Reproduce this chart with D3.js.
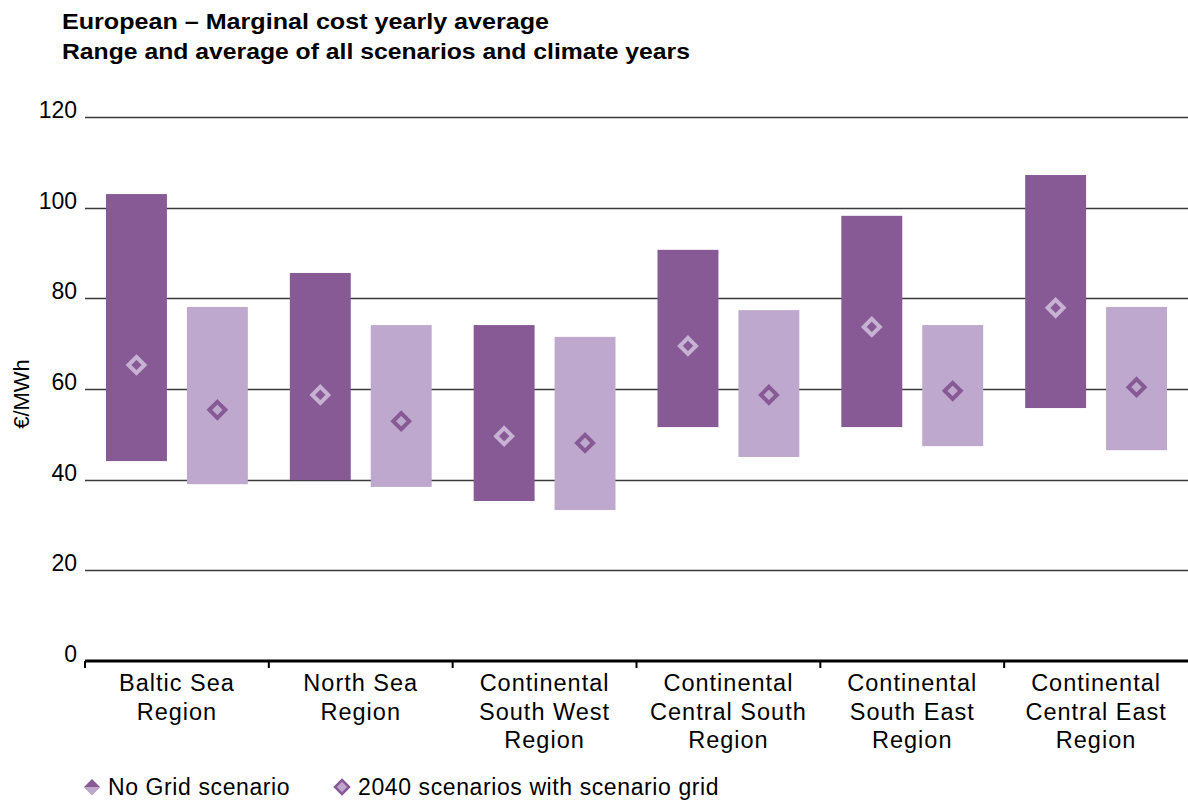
<!DOCTYPE html>
<html>
<head>
<meta charset="utf-8">
<script src="https://cdn.jsdelivr.net/npm/d3@7"></script>
<style>
  body { margin: 0; background: #fff; }
  text { font-family: "Liberation Sans", Arial, sans-serif; fill: #000; }
</style>
</head>
<body>
<div id="chart"></div>
<script>
// data
const regions = [
  ["Baltic Sea", "Region"],
  ["North Sea", "Region"],
  ["Continental", "South West", "Region"],
  ["Continental", "Central South", "Region"],
  ["Continental", "South East", "Region"],
  ["Continental", "Central East", "Region"]
];
const seriesNames = ["No Grid scenario", "2040 scenarios with scenario grid"];
// No Grid scenario: min, max, average
const noGridMin = [44.1, 39.9, 35.3, 51.6, 51.6, 55.8];
const noGridMax = [103.0, 85.6, 74.1, 90.7, 98.2, 107.2];
const noGridAvg = [65.3, 58.7, 49.6, 69.5, 73.7, 77.9];
// 2040 scenarios with scenario grid
const gridMin = [39.0, 38.4, 33.3, 45.0, 47.4, 46.5];
const gridMax = [78.1, 74.1, 71.5, 77.4, 74.1, 78.1];
const gridAvg = [55.4, 52.9, 48.1, 58.7, 59.6, 60.4];
const yTicks = [0, 20, 40, 60, 80, 100, 120];

const width = 1188, height = 801;
const margin = { top: 117, bottom: 140, left: 85, right: 0 };
const dark = "#875a96", light = "#bfa8cd";

const svg = d3.select("#chart").append("svg")
  .attr("width", width)
  .attr("height", height);

// title (the original font is a wide-ish bold grotesque, stretch to fit)
svg.append("text").attr("x", 62).attr("y", 29)
  .style("font-weight", "bold").style("font-size", "22px")
  .attr("textLength", 487).attr("lengthAdjust", "spacingAndGlyphs")
  .text("European – Marginal cost yearly average");
svg.append("text").attr("x", 62).attr("y", 59)
  .style("font-weight", "bold").style("font-size", "22px")
  .attr("textLength", 628).attr("lengthAdjust", "spacingAndGlyphs")
  .text("Range and average of all scenarios and climate years");

const y = d3.scaleLinear().domain([0, 120]).range([height - margin.bottom, margin.top]);
const x0 = d3.scaleBand().domain(d3.range(regions.length))
  .range([margin.left, width - margin.right]);
const x1 = d3.scaleBand().domain([0, 1])
  .range([21, x0.bandwidth() - 21]).paddingInner(0.247);

// gridlines
svg.append("g").selectAll("line")
  .data(yTicks.filter(t => t > 0))
  .join("line")
  .attr("x1", margin.left).attr("x2", width)
  .attr("y1", d => Math.round(y(d)) + 0.5).attr("y2", d => Math.round(y(d)) + 0.5)
  .attr("stroke", "#3a3a3a").attr("stroke-width", 1.3);

// y tick labels
svg.append("g").selectAll("text")
  .data(yTicks)
  .join("text")
  .attr("x", 77).attr("y", d => y(d) + 1)
  .attr("text-anchor", "end")
  .style("font-size", "23px")
  .text(d => d);

// y label
svg.append("text")
  .attr("transform", `translate(29, ${394}) rotate(-90)`)
  .attr("text-anchor", "middle")
  .style("font-size", "22px")
  .text("€/MWh");

const series = [
  { min: noGridMin, max: noGridMax, avg: noGridAvg, fill: dark, mark: "#c8b2d4" },
  { min: gridMin, max: gridMax, avg: gridAvg, fill: light, mark: dark }
];

const diamond = s => `M0,${-s}L${s},0L0,${s}L${-s},0Z`;

series.forEach((s, si) => {
  const g = svg.append("g");
  g.selectAll("rect")
    .data(regions.map((r, i) => i))
    .join("rect")
    .attr("x", i => x0(i) + x1(si))
    .attr("y", i => y(s.max[i]))
    .attr("width", x1.bandwidth())
    .attr("height", i => y(s.min[i]) - y(s.max[i]))
    .attr("fill", s.fill);
  g.selectAll("path")
    .data(regions.map((r, i) => i))
    .join("path")
    .attr("transform", i => `translate(${x0(i) + x1(si) + x1.bandwidth() / 2},${y(s.avg[i])})`)
    .attr("d", diamond(8))
    .attr("fill", "none")
    .attr("stroke", s.mark)
    .attr("stroke-width", 4);
});

// x axis
const axisY = y(0);
svg.append("line")
  .attr("x1", margin.left).attr("x2", width)
  .attr("y1", axisY).attr("y2", axisY)
  .attr("stroke", "#000").attr("stroke-width", 3);
svg.append("g").selectAll("line")
  .data(d3.range(regions.length))
  .join("line")
  .attr("x1", i => x0(i)).attr("x2", i => x0(i))
  .attr("y1", axisY).attr("y2", axisY + 7)
  .attr("stroke", "#000").attr("stroke-width", 2);

// category labels
const cats = svg.append("g").selectAll("text")
  .data(regions)
  .join("text")
  .attr("text-anchor", "middle")
  .style("font-size", "23.5px")
  .style("letter-spacing", "1px")
  .attr("x", (d, i) => x0(i) + x0.bandwidth() / 2)
  .attr("y", 691);
cats.selectAll("tspan")
  .data(d => d)
  .join("tspan")
  .attr("x", function () { return this.parentNode.getAttribute("x"); })
  .attr("dy", (d, i) => i === 0 ? 0 : 28.5)
  .text(d => d);

// legend
const legend = svg.append("g").attr("transform", "translate(0,787)");
const lx = [92, 342];
// first marker: dark diamond with lighter lower half
const m0 = legend.append("g").attr("transform", `translate(${lx[0]},0)`);
m0.append("path").attr("d", diamond(8)).attr("fill", dark);
m0.append("path").attr("d", "M-8,0L8,0L0,8Z").attr("fill", light);
const m1 = legend.append("g").attr("transform", `translate(${lx[1]},0)`);
m1.append("path").attr("d", diamond(7)).attr("fill", light)
  .attr("stroke", dark).attr("stroke-width", 2.5);
seriesNames.forEach((n, i) => {
  legend.append("text")
    .attr("x", lx[i] + 16).attr("y", 8)
    .style("font-size", "23px")
    .style("letter-spacing", "0.6px")
    .text(n);
});
</script>
</body>
</html>
